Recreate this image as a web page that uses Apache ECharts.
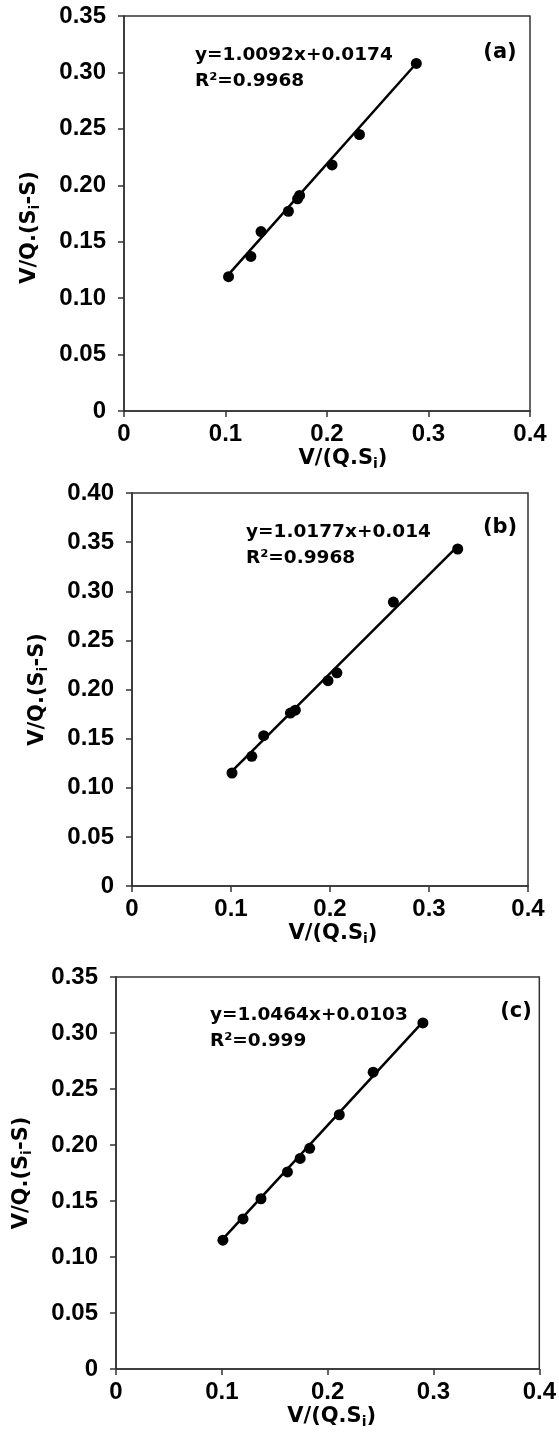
<!DOCTYPE html>
<html>
<head>
<meta charset="utf-8">
<script src="https://cdn.jsdelivr.net/npm/echarts@6/dist/echarts.min.js"></script>
<style>
html, body { margin: 0; padding: 0; background: #fff; }
#chart { width: 559px; height: 1435px; }
</style>
</head>
<body>
<div id="chart"></div>
<script>
// panel (a)
var xA = [0.103, 0.125, 0.135, 0.162, 0.171, 0.173, 0.205, 0.232, 0.288];
var yA = [0.119, 0.137, 0.159, 0.177, 0.188, 0.191, 0.218, 0.245, 0.308];
var fitA = [[0.102, 0.120], [0.289, 0.309]];
// panel (b)
var xB = [0.101, 0.121, 0.133, 0.160, 0.165, 0.198, 0.207, 0.264, 0.329];
var yB = [0.115, 0.132, 0.153, 0.176, 0.179, 0.209, 0.217, 0.289, 0.343];
var fitB = [[0.100, 0.116], [0.329, 0.346]];
// panel (c)
var xC = [0.101, 0.120, 0.137, 0.162, 0.174, 0.183, 0.211, 0.243, 0.290];
var yC = [0.115, 0.134, 0.152, 0.176, 0.188, 0.197, 0.227, 0.265, 0.309];
var fitC = [[0.100, 0.115], [0.290, 0.310]];

var equations = ['y=1.0092x+0.0174', 'y=1.0177x+0.014', 'y=1.0464x+0.0103'];
var r2 = ['R²=0.9968', 'R²=0.9968', 'R²=0.999'];
var panelTags = ['(a)', '(b)', '(c)'];
var yMax = [0.35, 0.40, 0.35];
var xTickLabels = ['0', '0.1', '0.2', '0.3', '0.4'];

var font = 'DejaVu Sans';
var tickFont = 'Liberation Sans';
var grids = [
  { left: 124, top: 16, width: 406, height: 395 },
  { left: 132, top: 493, width: 396, height: 393 },
  { left: 116, top: 977, width: 431, height: 392 }
];
// text positions for equation block and tag
var eqPos = [[195, 52], [246, 529], [210, 1012]];
var tagPos = [[500, 53], [500, 528], [516, 1012]];
var yNamePad = [[0, 28, 0, 0], [0, 0, 0, 0], [0, 0, 0, 0]];
var xNamePad = [[0, 0, 0, 32], [0, 0, 0, 6], [0, 0, 0, 8]];

var pts = [[xA, yA], [xB, yB], [xC, yC]];
var fits = [fitA, fitB, fitC];

var chart = echarts.init(document.getElementById('chart'));
var xAxes = [], yAxes = [], series = [], graphic = [];

grids.forEach(function (g, i) {
  g.show = true;
  g.borderColor = '#333';
  g.borderWidth = 1.5;
  g.containLabel = false;

  xAxes.push({
    type: 'value', gridIndex: i, min: 0, max: 0.4, interval: 0.1,
    name: 'V/(Q.S{sub|i})', nameLocation: 'middle', nameGap: 36,
    nameTextStyle: {
      fontFamily: font, fontWeight: 'bold', fontSize: 21, color: '#000',
      padding: xNamePad[i],
      rich: { sub: { fontFamily: font, fontWeight: 'bold', fontSize: 14, color: '#000', padding: [10, 0, 0, 0] } }
    },
    axisLine: { show: true, onZero: false, lineStyle: { color: '#333', width: 1.5 } },
    axisTick: { show: true, inside: false, length: 6, lineStyle: { color: '#333', width: 1.5 } },
    axisLabel: {
      margin: 11, fontFamily: tickFont, fontWeight: 'bold', fontSize: 24, color: '#000',
      formatter: function (v) { return xTickLabels[Math.round(v * 10)]; }
    },
    splitLine: { show: false }
  });

  yAxes.push({
    type: 'value', gridIndex: i, min: 0, max: yMax[i], interval: 0.05,
    name: 'V/Q.(S{sub|i}-S)', nameLocation: 'middle', nameGap: 82, nameRotate: 90,
    nameTextStyle: {
      fontFamily: font, fontWeight: 'bold', fontSize: 21, color: '#000',
      padding: yNamePad[i],
      rich: { sub: { fontFamily: font, fontWeight: 'bold', fontSize: 14, color: '#000', padding: [10, 0, 0, 0] } }
    },
    axisLine: { show: true, onZero: false, lineStyle: { color: '#333', width: 1.5 } },
    axisTick: { show: true, inside: false, length: 6, lineStyle: { color: '#333', width: 1.5 } },
    axisLabel: {
      margin: 18, fontFamily: tickFont, fontWeight: 'bold', fontSize: 24, color: '#000',
      formatter: function (v) { return v === 0 ? '0' : v.toFixed(2); }
    },
    splitLine: { show: false }
  });

  series.push({
    type: 'line', xAxisIndex: i, yAxisIndex: i,
    data: fits[i], symbol: 'none', silent: true,
    lineStyle: { color: '#000', width: 2.5 }
  });
  series.push({
    type: 'scatter', xAxisIndex: i, yAxisIndex: i,
    data: pts[i][0].map(function (x, k) { return [x, pts[i][1][k]]; }),
    symbol: 'circle', symbolSize: 11,
    itemStyle: { color: '#000', opacity: 1 }
  });

  graphic.push({
    type: 'text', left: eqPos[i][0], top: eqPos[i][1] - 10,
    style: {
      text: equations[i] + '\n' + r2[i],
      font: 'bold 18.5px "DejaVu Sans"', fill: '#000', lineHeight: 26
    }
  });
  graphic.push({
    type: 'text', x: tagPos[i][0], y: tagPos[i][1],
    style: {
      text: panelTags[i], font: 'bold 21px "DejaVu Sans"', fill: '#000',
      align: 'center', verticalAlign: 'middle'
    }
  });
});

chart.setOption({
  animation: false,
  backgroundColor: '#fff',
  grid: grids,
  xAxis: xAxes,
  yAxis: yAxes,
  series: series,
  graphic: graphic
});
</script>
</body>
</html>
